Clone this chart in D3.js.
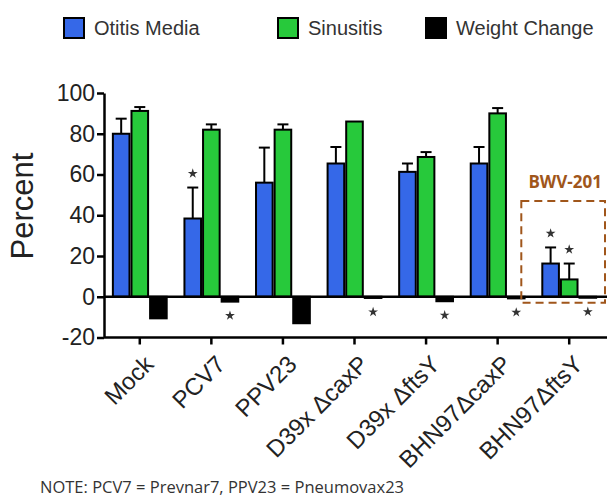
<!DOCTYPE html>
<html>
<head>
<meta charset="utf-8">
<script src="https://cdn.jsdelivr.net/npm/d3@7"></script>
<style>
  html, body { margin: 0; padding: 0; background: #fff; }
  svg { display: block; }
  .axis text { font-family: 'Liberation Sans', Arial, sans-serif; fill: #222; }
</style>
</head>
<body>
<svg id="chart" width="607" height="503"></svg>
<script>
// groups on the x axis
const groups = ['Mock', 'PCV7', 'PPV23', 'D39x ΔcaxP', 'D39x ΔftsY', 'BHN97ΔcaxP', 'BHN97ΔftsY']
const seriesNames = ['Otitis Media', 'Sinusitis', 'Weight Change']
const seriesColors = ['#3568e8', '#27c93b', '#000000']

// mean values (percent)
const otitisMedia = [80, 38.4, 56, 65.4, 61.3, 65.4, 16.3]
const sinusitis = [91.2, 82, 82, 86, 68.6, 90, 8.5]
const weightChange = [-10.6, -2.4, -13, -0.6, -2.2, -0.8, -0.5]

// upper error (SEM) of each bar
const otitisErr = [7.4, 15.2, 17.2, 8.1, 4.1, 8.1, 7.9]
const sinusitisErr = [1.9, 2.6, 2.6, 0, 2.4, 2.6, 7.8]
const weightErr = [0, 0, 0, 0, 0, 0, 0]

// significance stars (1 = star)
const otitisSig = [0, 1, 0, 0, 0, 0, 1]
const sinusitisSig = [0, 0, 0, 0, 0, 0, 1]
const weightSig = [0, 1, 0, 1, 1, 1, 1]

const yTicks = [-20, 0, 20, 40, 60, 80, 100]
const boxedGroup = 'BHN97ΔftsY'
const boxLabel = 'BWV-201'
const boxRange = [-3, 47] // percent range covered by the dashed box
const note = 'NOTE: PCV7 = Prevnar7, PPV23 = Pneumovax23'

const svg = d3.select('#chart')
const W = +svg.attr('width')

const x = d3.scaleBand().domain(groups).range([104, 605]).paddingInner(0.22).paddingOuter(0.11)
const xs = d3.scaleBand().domain(seriesNames).range([0, x.bandwidth()])
const y = d3.scaleLinear().domain([-20, 100]).range([337.5, 93])

const values = [otitisMedia, sinusitis, weightChange]
const errs = [otitisErr, sinusitisErr, weightErr]
const sigs = [otitisSig, sinusitisSig, weightSig]

const bars = []
groups.forEach((g, gi) => {
  seriesNames.forEach((s, si) => {
    bars.push({group: g, series: s, si, value: values[si][gi], err: errs[si][gi], sig: sigs[si][gi]})
  })
})

// legend
const legend = svg.append('g').selectAll('g')
  .data(seriesNames)
  .enter().append('g')
  .attr('transform', (d, i) => `translate(${[64, 278, 426][i]},18)`)
legend.append('rect')
  .attr('width', 20).attr('height', 20)
  .attr('fill', (d, i) => seriesColors[i])
  .attr('stroke', '#000').attr('stroke-width', 2)
legend.append('text')
  .attr('x', 30).attr('y', 17)
  .style('font-family', "'Liberation Sans', Arial, sans-serif")
  .style('font-size', '20px')
  .style('fill', '#333')
  .text(d => d)

// bars
const barG = svg.append('g')
barG.selectAll('rect')
  .data(bars)
  .enter().append('rect')
  .attr('x', d => x(d.group) + xs(d.series) + 1)
  .attr('width', xs.bandwidth() - 2)
  .attr('y', d => y(Math.max(0, d.value)))
  .attr('height', d => Math.abs(y(d.value) - y(0)))
  .attr('fill', d => seriesColors[d.si])
  .attr('stroke', '#000')
  .attr('stroke-width', 2)

// error bars
const errG = svg.append('g').attr('stroke', '#000').attr('stroke-width', 2)
bars.filter(d => d.err > 0).forEach(d => {
  const cx = x(d.group) + xs(d.series) + xs.bandwidth() / 2
  errG.append('line')
    .attr('x1', cx).attr('x2', cx)
    .attr('y1', y(d.value)).attr('y2', y(d.value + d.err))
  errG.append('line')
    .attr('x1', cx - 5.5).attr('x2', cx + 5.5)
    .attr('y1', y(d.value + d.err)).attr('y2', y(d.value + d.err))
})

// stars
const star = d3.symbol().type(d3.symbolStar).size(30)
svg.append('g').selectAll('path')
  .data(bars.filter(d => d.sig))
  .enter().append('path')
  .attr('d', star)
  .attr('transform', d => {
    const cx = x(d.group) + xs(d.series) + xs.bandwidth() / 2
    const cy = d.value >= 0 ? y(d.value + d.err) - 14 : y(d.value) + 14
    return `translate(${cx},${cy})`
  })
  .attr('fill', '#333')

// zero line
svg.append('line')
  .attr('x1', 104).attr('x2', W)
  .attr('y1', y(0)).attr('y2', y(0))
  .attr('stroke', '#000').attr('stroke-width', 2.5)

// y axis
const yAxis = svg.append('g')
  .attr('class', 'axis')
  .attr('transform', 'translate(104,0)')
  .call(d3.axisLeft(y).tickValues(yTicks).tickFormat(d => String(d)).tickSize(7).tickSizeOuter(0).tickPadding(2))
yAxis.select('.domain').attr('stroke-width', 2.5)
yAxis.selectAll('.tick line').attr('stroke-width', 2.5)
yAxis.selectAll('.tick text').style('font-size', '23px')

// x axis
const xAxis = svg.append('g')
  .attr('class', 'axis')
  .attr('transform', `translate(0,${y(-20)})`)
  .call(d3.axisBottom(x).tickSize(7).tickSizeOuter(0))
xAxis.select('.domain').attr('d', `M104,0H${W}`).attr('stroke-width', 2.5)
xAxis.selectAll('.tick line').attr('stroke-width', 2.5)
xAxis.selectAll('.tick text')
  .style('font-size', '24px')
  .attr('text-anchor', 'end')
  .attr('y', 0)
  .attr('dy', '0.72em')
  .attr('transform', 'translate(3,16) rotate(-45)')

// y label
svg.append('text')
  .attr('transform', 'translate(33,206) rotate(-90)')
  .attr('text-anchor', 'middle')
  .style('font-family', "'Liberation Sans', Arial, sans-serif")
  .style('font-size', '31px')
  .style('fill', '#222')
  .text('Percent')

// dashed box highlight
const bx0 = x(boxedGroup) - 20
const bx1 = Math.min(W - 2, x(boxedGroup) + x.bandwidth() + 9)
svg.append('rect')
  .attr('x', bx0).attr('y', y(boxRange[1]))
  .attr('width', bx1 - bx0)
  .attr('height', y(boxRange[0]) - y(boxRange[1]))
  .attr('fill', 'none')
  .attr('stroke', '#a0561b')
  .attr('stroke-width', 2)
  .attr('stroke-dasharray', '8,5')
svg.append('text')
  .attr('x', (bx0 + bx1) / 2 + 2)
  .attr('y', y(boxRange[1]) - 13)
  .attr('text-anchor', 'middle')
  .style('font-family', "'Open Sans', 'Noto Sans', sans-serif")
  .style('font-weight', 'bold')
  .style('font-size', '17px')
  .style('fill', '#a0561b')
  .text(boxLabel)

// note
svg.append('text')
  .attr('x', 40).attr('y', 493)
  .style('font-family', "'Open Sans', 'Noto Sans', sans-serif")
  .style('font-size', '16.5px')
  .style('fill', '#333')
  .text(note)
</script>
</body>
</html>
